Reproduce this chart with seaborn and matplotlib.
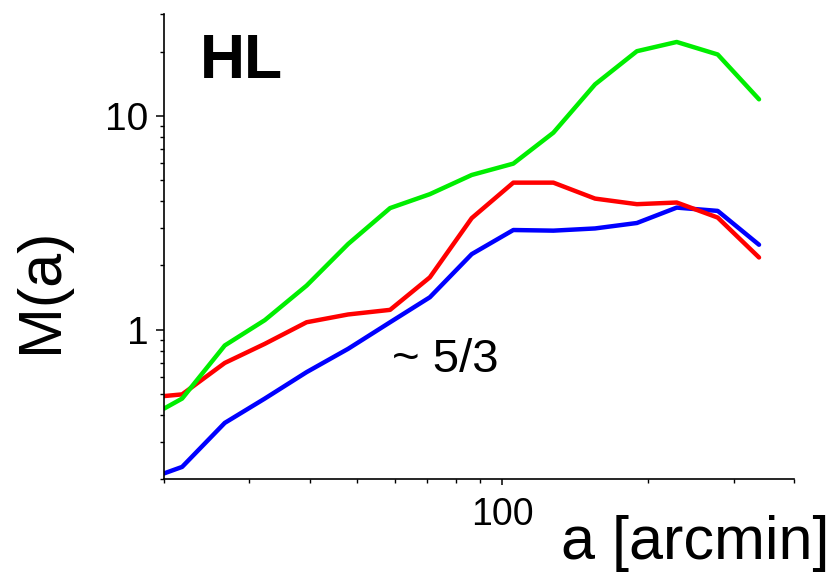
import numpy as np
import pandas as pd
import seaborn as sns
import matplotlib
matplotlib.use("Agg")
import matplotlib.pyplot as plt
from matplotlib import ticker

# ---- data ----
a_arcmin = [20, 21.8, 26.7, 32.3, 39.4, 48.0, 58.6, 70.8, 86.4, 105.3,
            127.4, 155.3, 189.5, 229, 278.3, 338.7]
m_blue = [0.213, 0.2285, 0.367, 0.477, 0.634, 0.815, 1.085, 1.42, 2.26, 2.93,
          2.91, 2.98, 3.16, 3.73, 3.60, 2.50]
m_red = [0.49, 0.499, 0.70, 0.86, 1.085, 1.18, 1.24, 1.76, 3.33, 4.88,
         4.88, 4.11, 3.87, 3.94, 3.35, 2.18]
m_green = [0.428, 0.477, 0.845, 1.11, 1.61, 2.52, 3.71, 4.31, 5.30, 5.99,
           8.36, 14.06, 20.1, 22.2, 19.4, 11.97]
series_names = ["blue", "red", "green"]
series_colors = ["#0000ff", "#ff0000", "#00ee00"]

x_ticks = [100]
x_tick_labels = ["100"]
y_ticks = [1, 10]
y_tick_labels = ["1", "10"]
x_limits = (20, 400)
y_limits = (0.2, 30)

panel_label = "HL"
slope_label = "~ 5/3"
x_label = "a [arcmin]"
y_label = "M(a)"

df = pd.concat([
    pd.DataFrame({"a": a_arcmin, "M": vals, "series": name})
    for name, vals in zip(series_names, [m_blue, m_red, m_green])
], ignore_index=True)

sns.set_style("ticks")
plt.rcParams["font.family"] = ["Liberation Sans", "DejaVu Sans"]
plt.rcParams["text.color"] = "black"
plt.rcParams["axes.labelcolor"] = "black"
plt.rcParams["xtick.color"] = "black"
plt.rcParams["ytick.color"] = "black"
plt.rcParams["axes.edgecolor"] = "black"

fig = plt.figure(figsize=(8.38, 5.72), dpi=100)
ax = fig.add_axes([0.1957, 0.1621, 0.7518, 0.8134])

sns.lineplot(data=df, x="a", y="M", hue="series",
             palette=dict(zip(series_names, series_colors)),
             hue_order=series_names, linewidth=3.2, legend=False, ax=ax,
             sort=False)

ax.set_xscale("log")
ax.set_yscale("log")
ax.set_xlim(*x_limits)
ax.set_ylim(*y_limits)

ax.xaxis.set_major_locator(ticker.FixedLocator(x_ticks))
ax.xaxis.set_major_formatter(ticker.FixedFormatter(x_tick_labels))
ax.xaxis.set_minor_locator(ticker.LogLocator(base=10, subs=np.arange(2, 10), numticks=20))
ax.xaxis.set_minor_formatter(ticker.NullFormatter())
ax.yaxis.set_major_locator(ticker.FixedLocator(y_ticks))
ax.yaxis.set_major_formatter(ticker.FixedFormatter(y_tick_labels))
ax.yaxis.set_minor_locator(ticker.LogLocator(base=10, subs=np.arange(2, 10), numticks=20))
ax.yaxis.set_minor_formatter(ticker.NullFormatter())

for s in ["top", "right"]:
    ax.spines[s].set_visible(False)
for s in ["left", "bottom"]:
    ax.spines[s].set_linewidth(1.2)
    ax.spines[s].set_color("black")

ax.tick_params(axis="x", which="major", direction="out", length=4, width=1.1,
               labelsize=27, pad=9, colors="black")
ax.tick_params(axis="x", which="minor", direction="out", length=3, width=1.0, colors="black")
ax.tick_params(axis="y", which="major", direction="out", length=6, width=1.1,
               labelsize=28, pad=5, colors="black")
ax.tick_params(axis="y", which="minor", direction="out", length=3.2, width=1.0, colors="black")

ax.set_xlabel(x_label, fontsize=44, ha="right", va="center", color="black")
ax.xaxis.set_label_coords(1.057, -0.137)
ax.set_ylabel(y_label, fontsize=44, ha="center", va="center", color="black")
ax.yaxis.set_label_coords(-0.194, 0.407)

ax.text(0.057, 0.8625, panel_label, transform=ax.transAxes, fontsize=45,
        fontweight="bold", ha="left", va="baseline", color="black")
ax.text(0.362, 0.2306, slope_label, transform=ax.transAxes, fontsize=34,
        ha="left", va="baseline", color="black")

fig.savefig("out.png", dpi=100)
